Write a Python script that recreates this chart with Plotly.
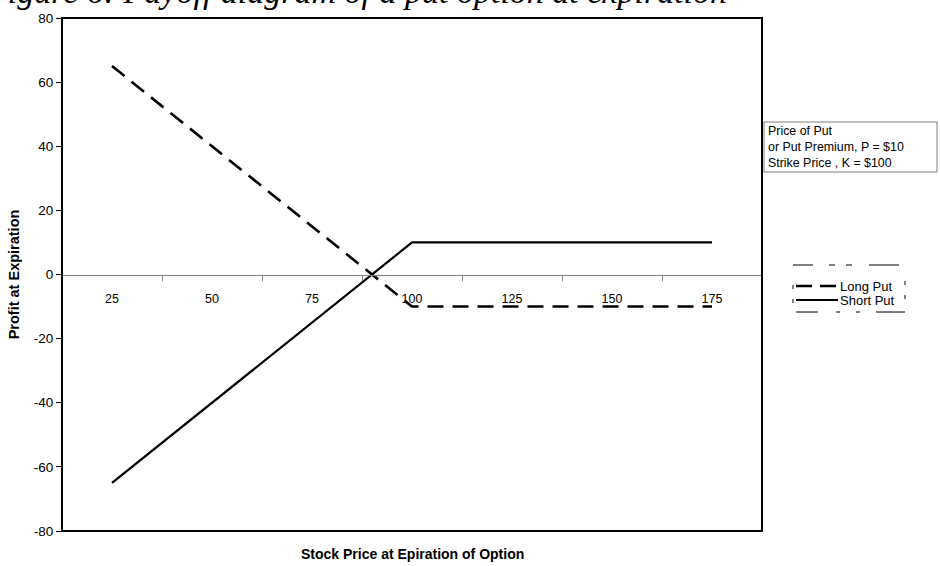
import plotly.graph_objects as go

# Stock price categories and profit at expiration for a put with K=100, P=10
stock_price = [25, 50, 75, 100, 125, 150, 175]
long_put = [65, 40, 15, -10, -10, -10, -10]
short_put = [-65, -40, -15, 10, 10, 10, 10]
y_ticks = [-80, -60, -40, -20, 0, 20, 40, 60, 80]

LONG_DASH = "16px,9px"
FONT = "Liberation Sans, Arial"

# Plot area in pixels: left 62, right 762, top 18, bottom 531
L, R, T, B = 62, 762, 18, 531


def px(x):
    return (x - L) / (R - L)


def py(y):
    return (B - y) / (B - T)


fig = go.Figure()
fig.add_trace(go.Scatter(
    x=stock_price, y=long_put, mode="lines", name="Long Put",
    line=dict(color="black", width=2.6, dash=LONG_DASH),
))
fig.add_trace(go.Scatter(
    x=stock_price, y=short_put, mode="lines", name="Short Put",
    line=dict(color="black", width=2.2),
))

# Plot-area frame
fig.add_shape(type="rect", xref="paper", yref="paper", x0=0, x1=1, y0=0, y1=1,
              line=dict(color="black", width=2), layer="above")

# Info box on the right
fig.add_shape(type="rect", xref="paper", yref="paper",
              x0=px(764), x1=px(937), y0=py(172), y1=py(122),
              line=dict(color="#7f7f7f", width=1))
fig.add_annotation(
    xref="paper", yref="paper", x=px(766), y=py(122),
    xanchor="left", yanchor="top", align="left", showarrow=False,
    text="Price of Put<br>or Put Premium, P = $10<br>Strike Price , K = $100",
    font=dict(family=FONT, size=12.4, color="black"),
)

# Hand-drawn legend
legend_rows = [("Long Put", 286, True, 2.6), ("Short Put", 300, False, 2.2)]
for label, yrow, dashed, w in legend_rows:
    fig.add_shape(type="line", xref="paper", yref="paper",
                  x0=px(796), x1=px(838), y0=py(yrow), y1=py(yrow),
                  line=dict(color="black", width=w, dash="16px,8px" if dashed else "solid"))
    fig.add_annotation(xref="paper", yref="paper", x=px(838), y=py(yrow),
                       xanchor="left", yanchor="middle", showarrow=False,
                       text=label, font=dict(family=FONT, size=13, color="black"))
    # broken frame marks at the sides
    fig.add_shape(type="line", xref="paper", yref="paper",
                  x0=px(793), x1=px(793), y0=py(yrow + 3), y1=py(yrow - 1),
                  line=dict(color="black", width=1))
    fig.add_shape(type="line", xref="paper", yref="paper",
                  x0=px(905), x1=px(905), y0=py(yrow - 1), y1=py(yrow - 5),
                  line=dict(color="black", width=1))

# Broken frame pieces above and below the legend
for yl, pieces in [(265, [(793, 813), (829, 835), (846, 852), (869, 899)]),
                   (312, [(796, 818), (836, 840), (856, 860), (876, 905)])]:
    for xa, xb in pieces:
        fig.add_shape(type="line", xref="paper", yref="paper",
                      x0=px(xa), x1=px(xb), y0=py(yl), y1=py(yl),
                      line=dict(color="black", width=1))

# Chart title (runs off the top edge)
fig.add_annotation(
    xref="paper", yref="paper", x=px(-16), y=py(11.5),
    xanchor="left", yanchor="bottom", showarrow=False,
    text="<i>Figure 6: Payoff diagram of a put option at expiration</i>",
    font=dict(family="Liberation Serif, Times New Roman", size=34, color="black"),
)

# X-axis title
fig.add_annotation(
    xref="paper", yref="paper", x=0.5, y=py(554),
    xanchor="center", yanchor="middle", showarrow=False,
    text="<b>Stock Price at Epiration of Option</b>",
    font=dict(family=FONT, size=14, color="black"),
)

fig.update_layout(
    width=940, height=566,
    margin=dict(l=L, r=940 - R, t=T, b=566 - B),
    paper_bgcolor="white", plot_bgcolor="white",
    font=dict(family=FONT, size=12, color="black"),
    showlegend=False,
    xaxis=dict(
        range=[12.5, 187.5], tickmode="array", tickvals=stock_price,
        ticktext=[str(v) for v in stock_price],
        ticks="", showgrid=False, zeroline=False,
        showline=True, linecolor="#808080", linewidth=1,
        anchor="free", position=0.5, ticklabelstandoff=12,
        minor=dict(tickmode="linear", tick0=37.5, dtick=25, ticks="outside",
                   ticklen=5, tickcolor="#808080", tickwidth=1, showgrid=False),
        tickfont=dict(size=12.5, color="black"), automargin=False,
    ),
    yaxis=dict(
        range=[-80, 80], tickmode="array", tickvals=y_ticks,
        ticktext=[str(v) for v in y_ticks],
        ticks="outside", ticklen=5, tickcolor="black", tickwidth=1,
        showgrid=False, zeroline=False, showline=False,
        title=dict(text="<b>Profit at Expiration</b>", font=dict(size=14.5), standoff=10),
        tickfont=dict(size=13.5, color="black"), automargin=False,
    ),
)

fig.write_html("out.html")
